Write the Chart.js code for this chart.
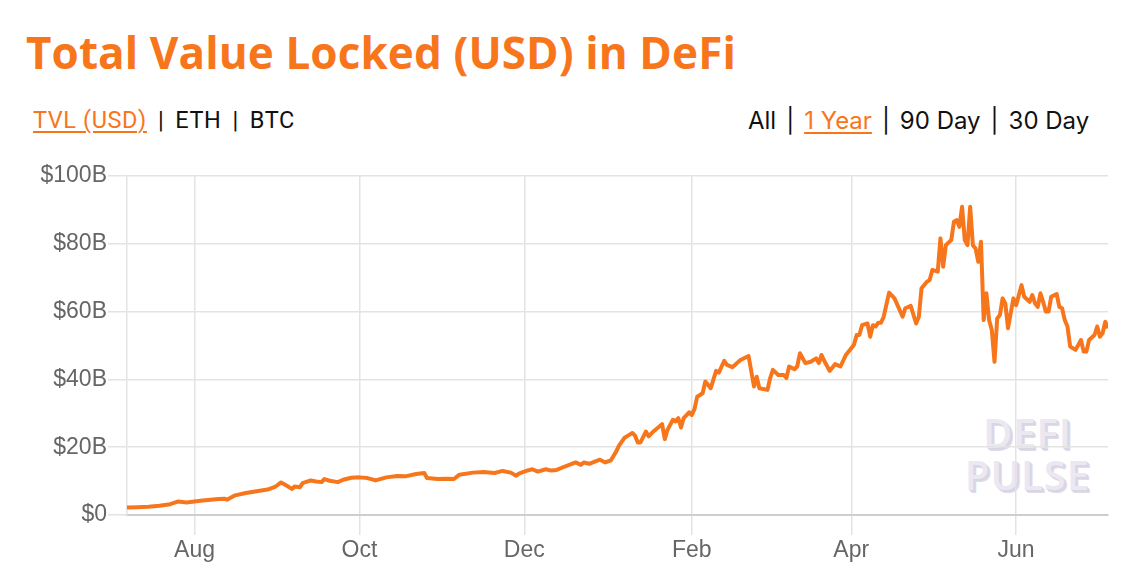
<!DOCTYPE html>
<html>
<head>
<meta charset="utf-8">
<title>Total Value Locked (USD) in DeFi</title>
<script src="https://cdn.jsdelivr.net/npm/chart.js@4.4.0/dist/chart.umd.min.js"></script>
<style>
body { margin:0; background:#fff; width:1138px; height:578px; overflow:hidden; position:relative; }
#title { position:absolute; left:26px; top:22px; font-family:'Open Sans', sans-serif; font-weight:700; font-size:44px; letter-spacing:0.1px; color:#f7761c; white-space:nowrap; }
.tabs { position:absolute; top:106px; color:#111; white-space:nowrap; }
.tabs .on { color:#f7761c; text-decoration:underline; text-underline-offset:3px; text-decoration-thickness:1.5px; }
.tabs .sep { display:inline-block; margin:0 11px; color:#111; }
#left-tabs { left:33px; font-family:Roboto, sans-serif; font-size:23.5px; letter-spacing:0.6px; }
#right-tabs { left:748px; font-family:Inter, sans-serif; font-size:24px; }
#right-tabs .sep { margin:0 10px; }
#watermark { position:absolute; left:945px; top:412px; width:165px; text-align:center; font-family:'Open Sans', sans-serif; font-weight:600; font-size:40px; line-height:42px; letter-spacing:1px; color:#ebe8f1; text-shadow:1px 1px 0 #dad5e5, 2px 2px 0 #dad5e5, 3px 3px 0 #e0dce9; }
#chart-box { position:absolute; left:0; top:160px; width:1138px; height:418px; }
</style>
</head>
<body>
<div id="title">Total Value Locked (USD) in DeFi</div>
<div id="left-tabs" class="tabs"><span class="on">TVL (USD)</span><span class="sep">|</span>ETH<span class="sep">|</span>BTC</div>
<div id="right-tabs" class="tabs">All<span class="sep">|</span><span class="on">1 Year</span><span class="sep">|</span>90 Day<span class="sep">|</span>30 Day</div>
<div id="watermark">DEFI<br>PULSE</div>
<div id="chart-box"><canvas id="tvl_chart" width="1138" height="418"></canvas></div>
<script>
//first day of the series, every point is counted in days from here
var startDate = '2020-07-07';
var endDate = '2021-07-05';

//month ticks shown on the x axis
var tickDates = ['2020-08-01', '2020-10-01', '2020-12-01', '2021-02-01', '2021-04-01', '2021-06-01'];
var tickLabels = ['Aug', 'Oct', 'Dec', 'Feb', 'Apr', 'Jun'];

//y axis ticks, in billions of USD
var yTicks = [0, 20, 40, 60, 80, 100];

//days after startDate, and the total value locked (billions USD) on that day
var dayOffset = [0, 4, 8, 12, 16, 19, 22, 25, 28, 31, 34, 36, 37, 40, 44, 48, 52, 55, 57, 59,
    61, 62, 64, 65, 68, 70, 72, 73, 75, 78, 80, 83, 86, 89, 92, 96, 100, 103, 107, 110,
    111, 115, 118, 121, 123, 128, 132, 136, 139, 142, 144, 145, 148, 150, 152, 155, 157, 159, 162, 166,
    168, 169, 171, 175, 177, 179, 181, 182, 184, 186, 187, 188, 189, 190, 192, 193, 195, 197, 198, 199,
    200, 202, 203, 204, 205, 206, 208, 209, 210, 211, 213, 214, 216, 218, 219, 221, 222, 224, 227, 230,
    232, 233, 234, 237, 238, 239, 241, 243, 244, 245, 247, 248, 249, 251, 253, 255, 256, 257, 258, 260,
    262, 264, 266, 268, 269, 270, 271, 272, 274, 275, 276, 277, 278, 279, 280, 282, 284, 287, 288, 290,
    292, 293, 294, 296, 297, 298, 300, 301, 302, 303, 305, 306, 307, 308, 309, 310, 311, 312, 313, 314,
    315, 316, 317, 318, 319, 320, 321, 322, 323, 324, 325, 326, 328, 329, 331, 332, 334, 335, 336, 337,
    338, 339, 340, 341, 342, 344, 345, 346, 347, 348, 349, 351, 353, 354, 355, 356, 358, 359, 360, 361,
    362, 363];
var tvl = [2.2, 2.3, 2.4, 2.7, 3.2, 4.0, 3.7, 4.0, 4.3, 4.5, 4.7, 4.8, 4.5, 5.8, 6.5, 7.0, 7.5, 8.4, 9.6, 8.7,
    7.7, 8.4, 8.2, 9.4, 10.2, 9.9, 9.7, 10.6, 10.1, 9.7, 10.4, 11.0, 11.1, 10.9, 10.2, 11.1, 11.5, 11.4, 12.1, 12.4,
    10.9, 10.6, 10.7, 10.6, 11.9, 12.5, 12.7, 12.4, 13.0, 12.5, 11.6, 12.2, 13.1, 13.5, 12.8, 13.5, 13.1, 13.3, 14.3, 15.5,
    14.8, 15.5, 15.1, 16.3, 15.5, 16.1, 18.7, 20.4, 22.7, 23.7, 24.2, 23.4, 21.4, 21.4, 24.6, 23.2, 24.8, 26.1, 26.8, 22.4,
    25.1, 28.1, 27.6, 28.6, 25.8, 28.6, 30.3, 29.5, 31.3, 34.9, 35.9, 39.4, 37.4, 42.5, 42.0, 45.5, 44.3, 43.6, 45.7, 46.9,
    37.9, 40.8, 37.4, 36.9, 40.4, 42.8, 41.3, 41.3, 40.4, 43.8, 43.0, 43.8, 47.7, 44.8, 45.2, 46.2, 44.8, 47.2, 45.5, 42.5,
    44.5, 43.8, 47.2, 49.2, 50.2, 53.1, 53.1, 56.0, 56.5, 52.6, 56.0, 55.6, 56.7, 56.7, 58.5, 65.6, 63.9, 58.5, 61.0, 61.7,
    56.5, 58.5, 66.9, 68.8, 69.3, 72.3, 71.8, 81.6, 73.2, 79.6, 81.1, 86.5, 87.0, 85.0, 90.9, 81.1, 79.6, 90.9, 79.6, 78.6,
    74.7, 80.6, 57.5, 65.4, 57.5, 54.6, 45.2, 58.0, 59.0, 63.9, 62.4, 55.1, 63.9, 61.9, 67.8, 64.4, 62.9, 64.9, 62.4, 61.4,
    65.4, 62.9, 60.0, 60.0, 64.4, 65.2, 61.4, 61.0, 57.5, 55.6, 49.7, 48.7, 51.6, 48.2, 48.2, 51.6, 53.1, 55.6, 52.6, 53.6,
    57.0, 55.1];

var orange = '#f7761c';
var gridColor = '#e3e3e3';
var tickFont = { family: "'Liberation Sans', Arial, sans-serif", size: 23 };

//number of days between the start date and a date
function dayOf(date)
{
    return Math.round((Date.parse(date) - Date.parse(startDate)) / 86400000);
}

var tickDays = tickDates.map(dayOf);

//build the points for the line from the two arrays
var points = dayOffset.map(function(d, i){
    return { x: d, y: tvl[i] };
});

var tvlChart = new Chart(document.getElementById('tvl_chart'), {
    type: 'line',
    data: {
        datasets: [{
            data: points,
            borderColor: orange,
            borderWidth: 4,
            borderJoinStyle: 'round',
            pointRadius: 0,
            tension: 0,
            fill: false
        }]
    },
    options: {
        responsive: false,
        animation: false,
        layout: { padding: { top: 16, right: 30, bottom: 0, left: 0 } },
        plugins: {
            legend: { display: false },
            tooltip: { enabled: false }
        },
        scales: {
            x: {
                type: 'linear',
                min: 0,
                max: dayOf(endDate),
                afterBuildTicks: function(axis){
                    axis.ticks = tickDays.map(function(d){ return { value: d }; });
                },
                afterFit: function(axis){ axis.height = 63; },
                ticks: {
                    autoSkip: false,
                    maxRotation: 0,
                    color: '#666',
                    font: tickFont,
                    padding: 2,
                    callback: function(value, index){ return tickLabels[index]; }
                },
                grid: { color: gridColor, lineWidth: 1.5, tickLength: 20 },
                border: { color: '#cecece', width: 2 }
            },
            y: {
                min: 0,
                max: 100,
                afterBuildTicks: function(axis){
                    axis.ticks = yTicks.map(function(v){ return { value: v }; });
                },
                afterFit: function(axis){ axis.width = 127; },
                ticks: {
                    color: '#666',
                    font: tickFont,
                    padding: 1,
                    callback: function(value){ return value === 0 ? '$0' : '$' + value + 'B'; }
                },
                grid: { color: gridColor, lineWidth: 1.5, tickLength: 19 },
                border: { color: gridColor, width: 1.5 }
            }
        }
    }
});
</script>
</body>
</html>
